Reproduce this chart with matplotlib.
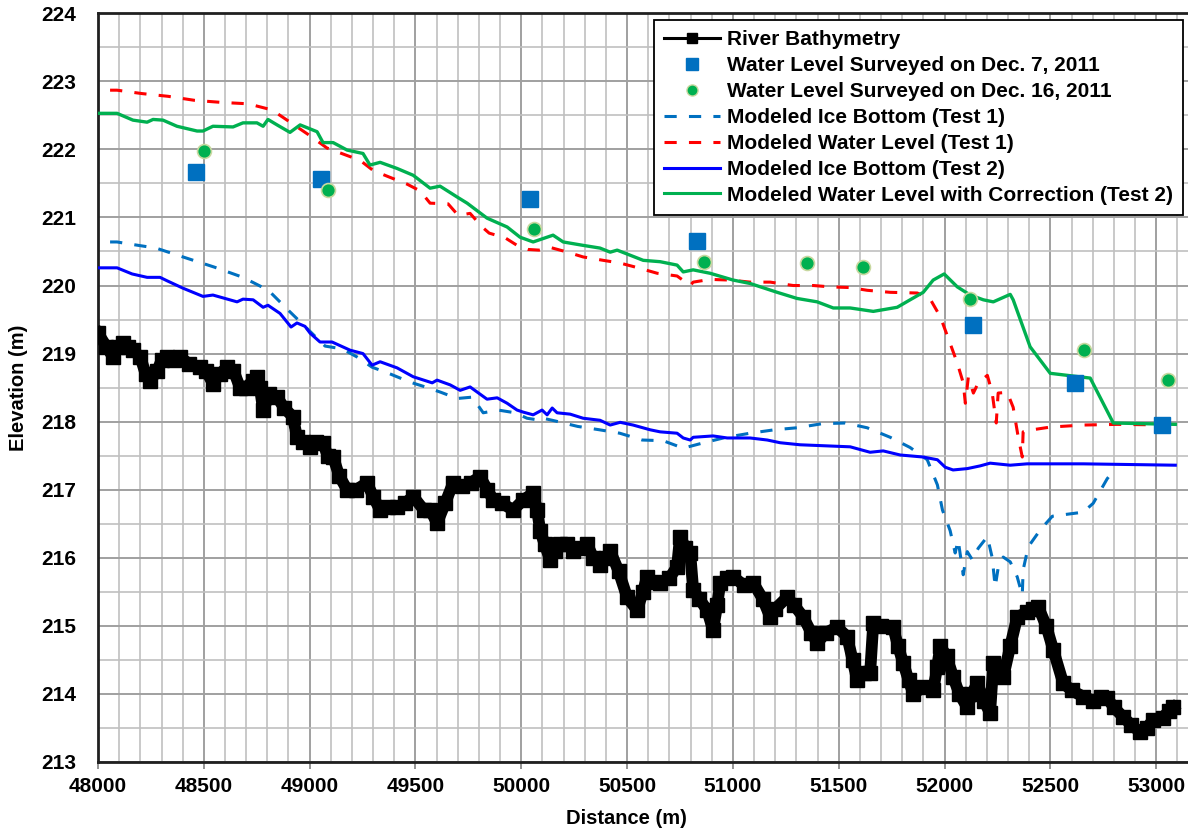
import matplotlib
matplotlib.use("Agg")
import matplotlib.pyplot as plt
from matplotlib.lines import Line2D
from matplotlib.ticker import MultipleLocator

plt.rcParams['font.family'] = ['Liberation Sans', 'DejaVu Sans']
plt.rcParams['font.weight'] = 'bold'

# river bathymetry (distance m, elevation m)
bathy_x = [48000, 48040, 48071, 48095, 48118, 48140, 48165, 48200, 48225, 48246, 48280, 48300,
           48326, 48360, 48387, 48430, 48482, 48510, 48543, 48575, 48610, 48640, 48671, 48700,
           48730, 48751, 48765, 48780, 48810, 48846, 48880, 48921, 48940, 48970, 49002, 49030,
           49063, 49085, 49111, 49140, 49177, 49220, 49271, 49300, 49333, 49370, 49413, 49450,
           49489, 49540, 49570, 49602, 49640, 49678, 49720, 49760, 49805, 49840, 49867, 49910,
           49961, 50010, 50056, 50075, 50089, 50110, 50136, 50160, 50183, 50215, 50245, 50280,
           50311, 50340, 50372, 50400, 50420, 50460, 50500, 50547, 50575, 50594, 50625, 50656,
           50700, 50736, 50750, 50775, 50798, 50812, 50840, 50878, 50906, 50925, 50940, 50970,
           51001, 51050, 51096, 51140, 51176, 51200, 51256, 51290, 51332, 51370, 51398, 51440,
           51492, 51540, 51565, 51587, 51620, 51648, 51663, 51700, 51757, 51780, 51805, 51830,
           51852, 51900, 51946, 51965, 51980, 52010, 52040, 52070, 52107, 52130, 52154, 52185,
           52215, 52230, 52277, 52310, 52343, 52390, 52420, 52442, 52480, 52513, 52560, 52600,
           52655, 52700, 52740, 52768, 52800, 52844, 52880, 52924, 52955, 52986, 53030, 53060,
           53080]
bathy_y = [219.3, 219.1, 218.95, 219.1, 219.15, 219.1, 219.05, 218.95, 218.7, 218.6, 218.75, 218.9,
           218.95, 218.9, 218.95, 218.85, 218.8, 218.75, 218.56, 218.7, 218.8, 218.75, 218.5, 218.5,
           218.6, 218.65, 218.5, 218.17, 218.4, 218.36, 218.2, 218.07, 217.77, 217.7, 217.63, 217.7,
           217.69, 217.5, 217.48, 217.2, 217.0, 217.0, 217.1, 216.9, 216.7, 216.75, 216.75, 216.8,
           216.9, 216.7, 216.7, 216.51, 216.8, 217.1, 217.05, 217.1, 217.19, 217.0, 216.85, 216.8,
           216.7, 216.85, 216.95, 216.7, 216.4, 216.2, 215.97, 216.1, 216.2, 216.2, 216.1, 216.15,
           216.2, 216.0, 215.9, 216.0, 216.1, 215.8, 215.42, 215.23, 215.5, 215.72, 215.65, 215.63,
           215.7, 215.87, 216.31, 216.15, 216.07, 215.53, 215.4, 215.23, 214.94, 215.3, 215.63, 215.7,
           215.72, 215.6, 215.63, 215.4, 215.13, 215.25, 215.42, 215.3, 215.13, 214.9, 214.75, 214.9,
           214.98, 214.84, 214.5, 214.2, 214.3, 214.3, 215.04, 215.0, 214.98, 214.7, 214.45, 214.2,
           214.0, 214.1, 214.05, 214.4, 214.7, 214.55, 214.25, 214.0, 213.8, 214.0, 214.16, 213.9,
           213.72, 214.45, 214.25, 214.7, 215.13, 215.2, 215.25, 215.28, 215.0, 214.65, 214.16, 214.05,
           213.96, 213.9, 213.95, 213.94, 213.8, 213.66, 213.55, 213.44, 213.5, 213.62, 213.65, 213.75,
           213.8]

# surveyed water levels
dec7_x = [48463, 49054, 50042, 50831, 52135, 52617, 53028]
dec7_y = [221.67, 221.56, 221.27, 220.65, 219.42, 218.57, 217.95]
dec16_x = [48501, 49087, 50061, 50864, 51351, 51616, 52121, 52660, 53057]
dec16_y = [221.97, 221.40, 220.83, 220.34, 220.33, 220.27, 219.80, 219.05, 218.61]

# modeled ice bottom, test 1
ice1_x = [48057, 48090, 48128, 48274, 48411, 48550, 48685, 48805, 48898, 49073, 49153, 49224,
          49295, 49373, 49475, 49546, 49621, 49697, 49768, 49820, 49891, 49971, 50027, 50089,
          50103, 50160, 50266, 50370, 50465, 50571, 50670, 50765, 50862, 50968, 51081, 51195,
          51303, 51422, 51531, 51634, 51743, 51837, 51918, 51966, 51990, 52026, 52050, 52064,
          52088, 52107, 52131, 52159, 52202, 52225, 52239, 52253, 52277, 52310, 52343, 52367,
          52371, 52395, 52452, 52509, 52556, 52655, 52702, 52768, 52783]
ice1_y = [220.64, 220.64, 220.62, 220.55, 220.41, 220.27, 220.12, 219.93, 219.64, 219.11, 219.07, 218.95,
          218.80, 218.71, 218.58, 218.51, 218.43, 218.34, 218.36, 218.13, 218.17, 218.13, 218.05, 218.02,
          218.05, 218.01, 217.93, 217.88, 217.83, 217.73, 217.72, 217.61, 217.69, 217.77, 217.83, 217.88,
          217.91, 217.97, 217.98, 217.91, 217.77, 217.62, 217.44, 217.07, 216.70, 216.40, 216.07, 216.26,
          215.75, 216.09, 215.97, 216.14, 216.31, 216.00, 215.57, 215.85, 216.01, 215.94, 215.72, 215.45,
          215.82, 216.16, 216.41, 216.61, 216.63, 216.67, 216.80, 217.16, 217.22]

# modeled water level, test 1
wl1_x = [48057, 48090, 48208, 48331, 48458, 48586, 48709, 48822, 48917, 49002, 49082, 49177,
         49238, 49300, 49371, 49460, 49522, 49569, 49654, 49702, 49758, 49815, 49848, 49924,
         49985, 50032, 50084, 50136, 50207, 50292, 50387, 50467, 50552, 50642, 50736, 50798,
         50812, 50892, 50987, 51081, 51176, 51285, 51380, 51460, 51554, 51634, 51743, 51871,
         51932, 51980, 52026, 52060, 52088, 52098, 52112, 52136, 52159, 52202, 52225, 52244,
         52253, 52296, 52324, 52348, 52367, 52371, 52414, 52499, 52655, 52816, 53080]
wl1_y = [222.87, 222.87, 222.82, 222.78, 222.72, 222.69, 222.67, 222.58, 222.38, 222.20, 222.02, 221.91,
         221.84, 221.69, 221.60, 221.49, 221.39, 221.21, 221.20, 221.03, 221.06, 220.86, 220.77, 220.70,
         220.58, 220.53, 220.52, 220.56, 220.50, 220.42, 220.37, 220.33, 220.26, 220.18, 220.14, 220.00,
         220.05, 220.09, 220.08, 220.05, 220.05, 220.00, 220.00, 219.98, 219.97, 219.93, 219.90, 219.89,
         219.80, 219.54, 219.15, 218.86, 218.57, 218.27, 218.65, 218.42, 218.57, 218.68, 218.42, 217.98,
         218.42, 218.43, 218.21, 217.77, 217.48, 217.85, 217.88, 217.92, 217.95, 217.96, 217.95]

# modeled ice bottom, test 2
ice2_x = [48000, 48090, 48161, 48232, 48293, 48326, 48402, 48496, 48543, 48657, 48685, 48733,
          48780, 48803, 48860, 48912, 48940, 48978, 49002, 49049, 49106, 49191, 49252, 49295,
          49333, 49413, 49489, 49579, 49602, 49664, 49711, 49758, 49838, 49886, 49933, 49980,
          50009, 50056, 50098, 50122, 50146, 50169, 50231, 50292, 50372, 50420, 50467, 50528,
          50609, 50656, 50736, 50765, 50798, 50812, 50906, 50973, 51081, 51162, 51223, 51317,
          51554, 51648, 51710, 51790, 51899, 51966, 52003, 52040, 52107, 52168, 52215, 52310,
          52390, 52655, 53090]
ice2_y = [220.26, 220.26, 220.17, 220.12, 220.12, 220.07, 219.96, 219.84, 219.86, 219.76, 219.80, 219.79,
          219.68, 219.71, 219.59, 219.39, 219.45, 219.40, 219.30, 219.17, 219.17, 219.05, 219.00, 218.83,
          218.88, 218.79, 218.66, 218.57, 218.61, 218.54, 218.46, 218.51, 218.33, 218.35, 218.27, 218.17,
          218.14, 218.10, 218.17, 218.10, 218.20, 218.13, 218.11, 218.05, 218.02, 217.95, 217.99, 217.95,
          217.88, 217.85, 217.83, 217.76, 217.73, 217.77, 217.79, 217.76, 217.76, 217.73, 217.69, 217.66,
          217.63, 217.55, 217.57, 217.51, 217.48, 217.44, 217.33, 217.29, 217.31, 217.35, 217.39, 217.36,
          217.38, 217.38, 217.36]

# modeled water level with correction, test 2
wl2_x = [48000, 48090, 48165, 48232, 48260, 48307, 48373, 48468, 48496, 48543, 48638, 48685,
         48751, 48780, 48803, 48846, 48907, 48955, 49035, 49063, 49111, 49177, 49252, 49285,
         49333, 49413, 49489, 49569, 49616, 49697, 49744, 49838, 49933, 49994, 50056, 50150,
         50198, 50292, 50372, 50420, 50453, 50576, 50656, 50736, 50765, 50812, 50892, 51001,
         51081, 51209, 51303, 51398, 51474, 51554, 51663, 51776, 51837, 51899, 51946, 51998,
         52060, 52121, 52183, 52230, 52310, 52324, 52404, 52499, 52688, 52797, 53090]
wl2_y = [222.53, 222.53, 222.43, 222.40, 222.44, 222.43, 222.34, 222.27, 222.27, 222.34, 222.33, 222.39,
         222.39, 222.34, 222.44, 222.36, 222.25, 222.36, 222.26, 222.10, 222.10, 221.99, 221.94, 221.77,
         221.81, 221.72, 221.62, 221.43, 221.46, 221.30, 221.21, 220.99, 220.86, 220.71, 220.64, 220.74,
         220.64, 220.59, 220.55, 220.49, 220.52, 220.37, 220.35, 220.30, 220.20, 220.23, 220.18, 220.08,
         220.03, 219.90, 219.81, 219.76, 219.67, 219.67, 219.62, 219.68, 219.79, 219.90, 220.08, 220.17,
         219.98, 219.86, 219.79, 219.76, 219.87, 219.79, 219.10, 218.71, 218.64, 217.98, 217.96]

fig = plt.figure(figsize=(11.88, 8.30), dpi=100)
ax = fig.add_axes([0.0825, 0.082, 0.9175, 0.902])

ax.plot(bathy_x, bathy_y, color='black', lw=8.5, marker='s', markersize=10.5, zorder=3)
ax.plot(ice1_x, ice1_y, color='#0070C0', lw=2.2, ls=(0, (4, 4)), zorder=4)
ax.plot(wl1_x, wl1_y, color='#FF0000', lw=2.2, ls=(0, (4, 4)), zorder=4)
ax.plot(ice2_x, ice2_y, color='#0000FF', lw=2.2, zorder=4)
ax.plot(wl2_x, wl2_y, color='#00B050', lw=2.4, zorder=4)
ax.plot(dec7_x, dec7_y, ls='none', marker='s', markersize=11.5, color='#0070C0', zorder=5)
ax.plot(dec16_x, dec16_y, ls='none', marker='o', markersize=10, color='#00B050',
        markeredgecolor='#C8D8A0', markeredgewidth=1.2, zorder=5)

handles = [
    Line2D([], [], color='black', lw=2.2, marker='s', markersize=7),
    Line2D([], [], ls='none', marker='s', markersize=9, color='#0070C0'),
    Line2D([], [], ls='none', marker='o', markersize=8, color='#00B050',
           markeredgecolor='#C8D8A0', markeredgewidth=1),
    Line2D([], [], color='#0070C0', lw=2.2, ls=(0, (4, 4))),
    Line2D([], [], color='#FF0000', lw=2.2, ls=(0, (4, 4))),
    Line2D([], [], color='#0000FF', lw=2.2),
    Line2D([], [], color='#00B050', lw=2.2),
]
labels = ['River Bathymetry', 'Water Level Surveyed on Dec. 7, 2011',
          'Water Level Surveyed on Dec. 16, 2011', 'Modeled Ice Bottom (Test 1)',
          'Modeled Water Level (Test 1)', 'Modeled Ice Bottom (Test 2)',
          'Modeled Water Level with Correction (Test 2)']
leg = ax.legend(handles, labels, loc='upper right', bbox_to_anchor=(0.9955, 0.991),
                fontsize=15, frameon=True, fancybox=False, borderaxespad=0,
                handlelength=2.7, handletextpad=0.3, labelspacing=0.33,
                borderpad=0.5)
leg.get_frame().set_edgecolor('black')
leg.get_frame().set_linewidth(1.3)
leg.get_frame().set_alpha(1)
leg.set_zorder(10)

ax.set_xlim(48000, 53150)
ax.set_ylim(213, 224)
ax.xaxis.set_major_locator(MultipleLocator(500))
ax.xaxis.set_minor_locator(MultipleLocator(100))
ax.yaxis.set_major_locator(MultipleLocator(1))
ax.yaxis.set_minor_locator(MultipleLocator(0.5))
ax.grid(which='minor', color='#C0C0C0', lw=1.2, zorder=0)
ax.grid(which='major', color='#A0A0A0', lw=1.4, zorder=0)
ax.set_axisbelow(True)

ax.tick_params(axis='x', which='major', direction='out', length=5, width=1.2,
               labelsize=15, pad=6, color='#808080')
ax.tick_params(axis='y', which='major', length=0, labelsize=15, pad=16)
ax.tick_params(which='minor', length=0)
for lab in ax.get_xticklabels() + ax.get_yticklabels():
    lab.set_fontweight('bold')

for side in ['left', 'bottom', 'top']:
    ax.spines[side].set_linewidth(2)
    ax.spines[side].set_color('#202020')
ax.spines['right'].set_visible(False)

ax.set_xlabel('Distance (m)', fontsize=14.5, fontweight='bold')
ax.set_ylabel('Elevation (m)', fontsize=14.5, fontweight='bold')
ax.xaxis.set_label_coords(0.485, -0.063)
ax.yaxis.set_label_coords(-0.064, 0.5)

fig.savefig('out.png', dpi=100)
